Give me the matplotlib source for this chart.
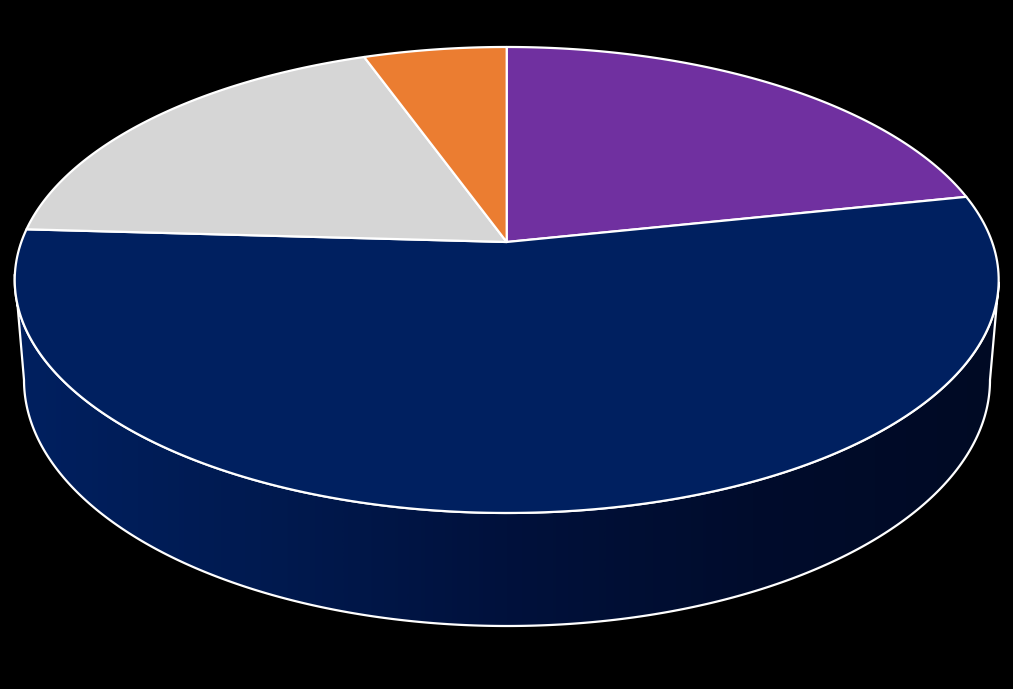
import numpy as np
import matplotlib
matplotlib.use("Agg")
import matplotlib.pyplot as plt
from matplotlib.colors import LinearSegmentedColormap
from matplotlib.patches import Polygon

# slices, clockwise from 12 o'clock
slices = ["Purple", "Navy", "Grey", "Orange"]
values = [21.7, 54.2, 18.6, 5.5]
colors = ["#7030A0", "#002060", "#D6D6D6", "#EB7D31"]

wall_stops = ["#002060", "#001A50", "#00113C", "#000C2C", "#000A24"]

BG = "#000000"
EDGE = "#FFFFFF"

# pie plane in picture pixels: a circle seen in perspective
CX, CY = 506.7, 242.0
RX, RY = 485.4, 226.8
PERSP = 0.163
# lower rim of the wall
BOT_X, BOT_Y, BOT_A, BOT_B = 507.0, 380.0, 483.0, 246.0


def project(theta):
    u, v = np.sin(theta), -np.cos(theta)
    w = 1 - PERSP * v
    return CX + RX * u / w, CY + RY * v / w


def rim_arc(a0, a1, n=200):
    return np.column_stack(project(np.linspace(a0, a1, n)))


fig = plt.figure(figsize=(10.13, 6.89), dpi=100, facecolor=BG)
ax = fig.add_axes([0, 0, 1, 1])

# outer wall: lower part of the top rim, then down and along the bottom rim
front = rim_arc(np.radians(100), np.radians(262), 300)
s = np.radians(np.linspace(0, 180, 300))
bottom = np.column_stack((BOT_X + BOT_A * np.cos(s), BOT_Y + BOT_B * np.sin(s)))
wall = Polygon(np.vstack((front, bottom[::-1])), closed=True, facecolor="none",
               edgecolor=EDGE, lw=1.6, zorder=3, joinstyle="round")
ax.add_patch(wall)

cmap = LinearSegmentedColormap.from_list("wall", wall_stops)
grad = ax.imshow(np.linspace(0, 1, 512)[None, :], cmap=cmap, aspect="auto",
                 extent=(14, 999, 640, 280), zorder=2)
grad.set_clip_path(wall)

# top face
edges = np.radians(np.cumsum([0] + values) / sum(values) * 360)
for name, col, a0, a1 in zip(slices, colors, edges[:-1], edges[1:]):
    pts = np.vstack(([CX, CY], rim_arc(a0, a1)))
    ax.add_patch(Polygon(pts, closed=True, facecolor=col, edgecolor=EDGE, lw=1.6,
                         joinstyle="round", zorder=4, label=name))

ax.set_xlim(0, 1013)
ax.set_ylim(689, 0)
ax.axis("off")

fig.savefig("out.png", dpi=100, facecolor=fig.get_facecolor())
